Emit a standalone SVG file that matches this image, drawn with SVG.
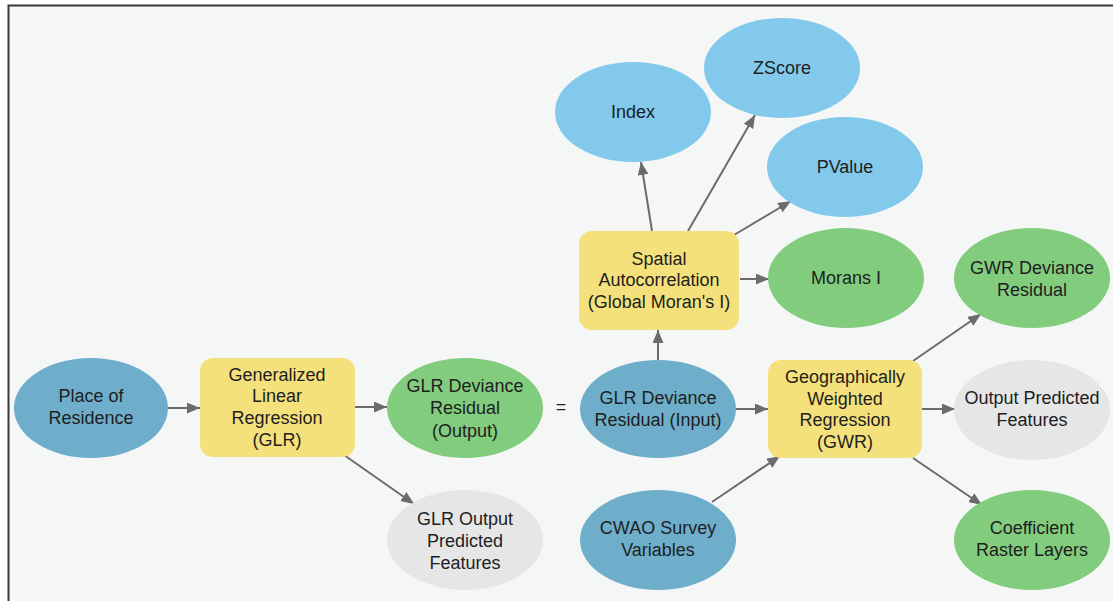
<svg xmlns="http://www.w3.org/2000/svg" width="1113" height="601" viewBox="0 0 1113 601">
<style>
text{font-family:"Liberation Sans",Arial,sans-serif;font-size:18px;fill:#1e1e1e;text-anchor:middle}
.blue{fill:#6eaecb}
.lblue{fill:#82c9ec}
.green{fill:#82cc7e}
.gray{fill:#e6e6e6}
.tool{fill:#f4e17b}
.conn line{stroke:#6b6b6b;stroke-width:2;marker-end:url(#ah)}
</style>
<defs>
<marker id="ah" viewBox="0 0 12 10" refX="12" refY="5" markerWidth="13" markerHeight="11" markerUnits="userSpaceOnUse" orient="auto">
<path d="M0,0 L12,5 L0,10 Z" fill="#6b6b6b"/>
</marker>
</defs>
<rect x="0" y="0" width="1113" height="601" fill="#ffffff"/>
<rect x="8.5" y="5.5" width="1120" height="610" fill="#f5f7f6" stroke="#3a3a3a" stroke-width="2"/>
<g class="conn" id="connectors">
<line x1="168" y1="408" x2="200" y2="408"/>
<line x1="355" y1="407" x2="387" y2="407"/>
<line x1="344" y1="455" x2="414" y2="504"/>
<line x1="652" y1="231" x2="641" y2="162"/>
<line x1="688" y1="231" x2="755" y2="115"/>
<line x1="734" y1="235" x2="791" y2="201"/>
<line x1="740" y1="279" x2="769" y2="279"/>
<line x1="658" y1="360" x2="658" y2="330"/>
<line x1="736" y1="409" x2="768" y2="409"/>
<line x1="712" y1="502" x2="780" y2="456"/>
<line x1="913" y1="361" x2="981" y2="314"/>
<line x1="922" y1="409" x2="955" y2="409"/>
<line x1="913" y1="458" x2="982" y2="505"/>
</g>
<g id="place-of-residence"><ellipse class="blue" cx="91" cy="408" rx="77" ry="50"/><text x="91" y="402">Place of</text><text x="91" y="424">Residence</text></g>
<g id="glr"><rect class="tool" x="200" y="358" width="155" height="99" rx="13"/><text x="277" y="381">Generalized</text><text x="277" y="402">Linear</text><text x="277" y="424">Regression</text><text x="277" y="446">(GLR)</text></g>
<g id="glr-dev-output"><ellipse class="green" cx="465" cy="408" rx="78" ry="50"/><text x="465" y="392">GLR Deviance</text><text x="465" y="414">Residual</text><text x="465" y="437">(Output)</text></g>
<g id="glr-output-predicted"><ellipse class="gray" cx="465" cy="540" rx="78" ry="50"/><text x="465" y="525">GLR Output</text><text x="465" y="547">Predicted</text><text x="465" y="569">Features</text></g>
<g id="equals"><text x="561" y="413">=</text></g>
<g id="glr-dev-input"><ellipse class="blue" cx="658" cy="409" rx="78" ry="49"/><text x="658" y="404">GLR Deviance</text><text x="658" y="426">Residual (Input)</text></g>
<g id="cwao"><ellipse class="blue" cx="658" cy="540" rx="78" ry="50"/><text x="658" y="534">CWAO Survey</text><text x="658" y="556">Variables</text></g>
<g id="spatial-autocorrelation"><rect class="tool" x="579" y="231" width="160" height="99" rx="13"/><text x="659" y="265">Spatial</text><text x="659" y="286">Autocorrelation</text><text x="659" y="308">(Global Moran's I)</text></g>
<g id="index"><ellipse class="lblue" cx="633" cy="112" rx="78" ry="50"/><text x="633" y="118">Index</text></g>
<g id="zscore"><ellipse class="lblue" cx="782" cy="68" rx="78" ry="50"/><text x="782" y="74">ZScore</text></g>
<g id="pvalue"><ellipse class="lblue" cx="845" cy="167" rx="78" ry="50"/><text x="845" y="173">PValue</text></g>
<g id="morans-i"><ellipse class="green" cx="846" cy="278" rx="78" ry="50"/><text x="846" y="284">Morans I</text></g>
<g id="gwr"><rect class="tool" x="768" y="360" width="154" height="98" rx="13"/><text x="845" y="383">Geographically</text><text x="845" y="405">Weighted</text><text x="845" y="426">Regression</text><text x="845" y="448">(GWR)</text></g>
<g id="gwr-dev-residual"><ellipse class="green" cx="1032" cy="278" rx="78" ry="50"/><text x="1032" y="274">GWR Deviance</text><text x="1032" y="296">Residual</text></g>
<g id="output-predicted"><ellipse class="gray" cx="1032" cy="410" rx="78" ry="50"/><text x="1032" y="404">Output Predicted</text><text x="1032" y="426">Features</text></g>
<g id="coefficient"><ellipse class="green" cx="1032" cy="540" rx="78" ry="50"/><text x="1032" y="534">Coefficient</text><text x="1032" y="556">Raster Layers</text></g>
</svg>
